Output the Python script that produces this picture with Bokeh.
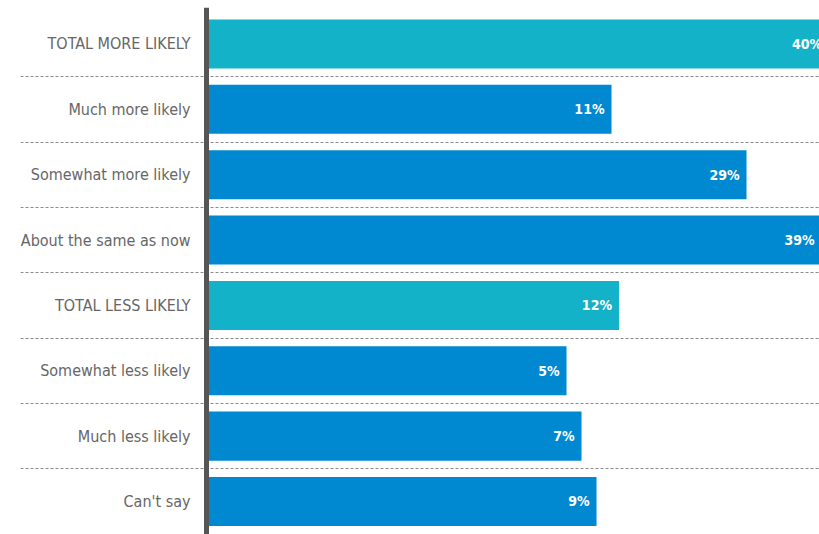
from bokeh.plotting import figure
from bokeh.models import ColumnDataSource, Range1d, Span, Grid, FixedTicker
from bokeh.core.properties import value
from bokeh.embed import file_html
from bokeh.resources import INLINE

# ---- data ----
categories = ["TOTAL MORE LIKELY", "Much more likely", "Somewhat more likely",
              "About the same as now", "TOTAL LESS LIKELY", "Somewhat less likely",
              "Much less likely", "Can't say"]
values = [40, 11, 29, 39, 12, 5, 7, 9]
is_total = [True, False, False, False, True, False, False, False]

# ---- styling ----
TEAL = "#13B2C8"
BLUE = "#0089D1"
BASE = -43.0          # where the bars visually start (axis position)
FONT = "DejaVu Sans Condensed"

rows = list(range(len(categories)))
labels = [f"{v}%" for v in values]
colors = [TEAL if t else BLUE for t in is_total]

src = ColumnDataSource(dict(y=rows, v=values, cat=categories, lab=labels, col=colors,
                            base=[BASE] * len(rows)))

p = figure(width=819, height=534, output_backend="svg", toolbar_location=None,
           x_axis_type=None, y_axis_type=None,
           x_range=Range1d(-67.8, 38.73), y_range=Range1d(7.505, -0.558),
           min_border_left=20, min_border_right=0, min_border_top=7, min_border_bottom=0)
p.outline_line_color = None
p.grid.visible = False
p.background_fill_color = "white"

# dashed separators between rows
sep = Grid(dimension=1, ticker=FixedTicker(ticks=[r + 0.5 for r in rows[:-1]]),
           grid_line_color="#8a8a8a", grid_line_dash="3 2", grid_line_width=1)
p.add_layout(sep)

p.hbar(y="y", left="base", right="v", height=0.75, fill_color="col",
       line_color=None, source=src)

# value labels inside bars
p.text(x="v", y="y", text="lab", x_offset=-7, text_align="right",
       text_baseline="middle", text_color="white", text_font=value(FONT),
       text_font_style="bold", text_font_size="14px", source=src)

# category labels left of the axis
p.text(x="base", y="y", text="cat", x_offset=-16, text_align="right",
       text_baseline="middle", text_color="#666666", text_font=value(FONT),
       text_font_size="16px", source=src)

axis_line = Span(location=BASE, dimension="height", line_color="#555555", line_width=5)
p.add_layout(axis_line)

open("out.html", "w").write(file_html(p, INLINE))
